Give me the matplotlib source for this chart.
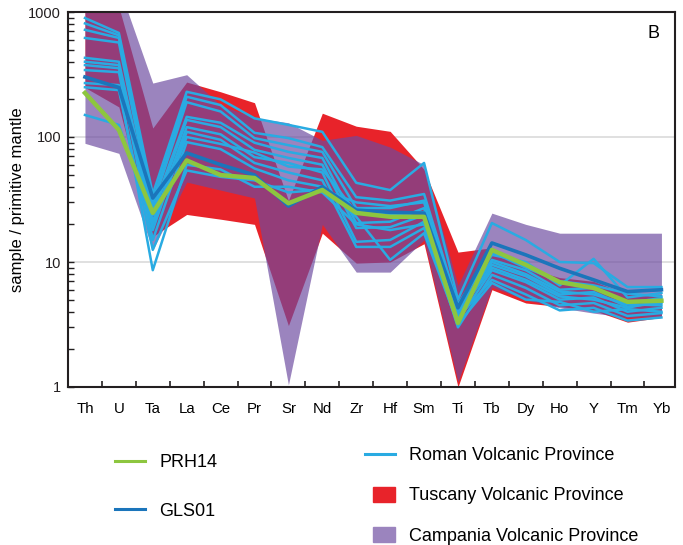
import numpy as np
import matplotlib
matplotlib.use("Agg")
import matplotlib.pyplot as plt
from matplotlib.lines import Line2D
from matplotlib.patches import Patch, Rectangle
from matplotlib.legend_handler import HandlerPatch
from matplotlib.ticker import LogLocator, NullFormatter

plt.rcParams['font.family'] = ['Liberation Sans', 'DejaVu Sans']

elements = ["Th", "U", "Ta", "La", "Ce", "Pr", "Sr", "Nd", "Zr", "Hf",
            "Sm", "Ti", "Tb", "Dy", "Ho", "Y", "Tm", "Yb"]

# field envelopes (upper / lower), sample / primitive mantle
tuscany_hi = [1500, 1100, 118, 275, 230, 188, 31, 155, 122, 111, 55, 12, 13, 9, 7.5, 7, 5.5, 5.5]
tuscany_lo = [249, 174, 16, 24, 22, 20, 3.1, 17, 9.8, 10, 14, 1.0, 6, 4.7, 4.4, 4.1, 3.3, 3.6]
campania_hi = [1500, 1600, 270, 315, 180, 142, 130, 94, 103, 83, 60, 6.5, 24.6, 20, 17, 17, 17, 17]
campania_lo = [89, 74, 12.5, 43.6, 37.6, 32.5, 1.04, 20, 8.3, 8.3, 15, 1.1, 6.3, 5, 4.3, 3.9, 3.6, 3.7]

# Roman Volcanic Province samples
roman = [
    [895, 680, 35, 230, 200, 141, 125, 110, 43, 37.6, 62, 5.0, 20.5, 15, 10, 9.8, 6.3, 6.3],
    [810, 650, 31, 210, 180, 108, 98, 83, 33, 31, 35, 4.5, 11.4, 10, 6.5, 10.6, 5.2, 5.65],
    [720, 620, 28.6, 190, 160, 98, 86, 76, 27, 27, 31, 4.1, 10.4, 8.6, 6.0, 6.2, 4.7, 5.15],
    [620, 570, 26, 145, 130, 90, 76, 68, 20.5, 21, 27, 3.8, 9.5, 7.7, 5.5, 5.75, 4.4, 4.7],
    [430, 400, 23.7, 137, 120, 79, 68, 60, 18.7, 19, 23.7, 3.4, 8.6, 6.9, 5.0, 5.2, 4.0, 4.3],
    [400, 376, 21, 120, 105, 69, 62, 52, 14.5, 15, 21, 3.0, 7.9, 6.2, 4.5, 4.7, 3.7, 3.9],
    [376, 355, 18, 110, 95, 62, 52, 45, 13.2, 13.2, 18.7, 3.6, 7.2, 5.5, 4.1, 4.3, 3.4, 3.6],
    [343, 330, 15, 91, 80, 56, 45, 40, 23, 10.4, 17, 3.2, 6.8, 5.0, 4.8, 4.0, 4.2, 4.0],
    [270, 260, 8.6, 60, 55, 40, 40, 36, 20, 18, 20, 4.3, 10, 8, 5.8, 5.5, 4.6, 4.5],
    [250, 237, 12.5, 54, 48, 45, 36, 38, 30, 28, 30, 3.9, 9, 7.2, 5.3, 5.0, 4.3, 4.9],
    [150, 125, 20, 100, 88, 75, 58, 55, 25, 24, 25, 4.6, 12, 9, 7, 6.5, 5.6, 5.3],
]
gls01 = [302, 249, 32.5, 74.6, 60, 49.7, 28, 40, 26, 25, 24.6, 4.3, 14.2, 11.4, 8.9, 7.2, 5.8, 6.0]
prh14 = [225, 114, 24.7, 65, 49.6, 47, 29.5, 37.7, 24.7, 23, 23, 3.25, 12.5, 9.5, 6.9, 6.2, 4.8, 4.9]

red = '#E8232A'
purple = '#6C4A9F'
light_blue = '#29ABE2'
dark_blue = '#1B75BB'
green = '#8DC63F'

fig = plt.figure(figsize=(6.83, 5.45), dpi=100)
ax = fig.add_axes([68 / 683, 1 - 387 / 545, 607 / 683, 375 / 545])
x = np.arange(len(elements))

ax.fill_between(x, tuscany_lo, tuscany_hi, color=red, lw=0, zorder=1)
ax.fill_between(x, campania_lo, campania_hi, color=purple, alpha=0.68, lw=0, zorder=2)
for r in roman:
    ax.plot(x, r, color=light_blue, lw=1.8, zorder=3)
ax.plot(x, gls01, color=dark_blue, lw=2.6, zorder=4)
ax.plot(x, prh14, color=green, lw=3.2, zorder=5)

ax.axhline(10, color='#DADADA', lw=1.2, zorder=0)
ax.axhline(100, color='#DADADA', lw=1.2, zorder=0)

ax.set_yscale('log')
ax.set_ylim(1, 1000)
ax.set_xlim(-0.5, 17.4)
ax.set_yticks([1, 10, 100, 1000])
ax.set_yticklabels(['1', '10', '100', '1000'])
ax.yaxis.set_minor_locator(LogLocator(base=10, subs=np.arange(2, 10)))
ax.yaxis.set_minor_formatter(NullFormatter())
ax.tick_params(axis='y', which='both', direction='in', length=4, width=1,
               labelsize=10.5, pad=5, colors='#231F20')

ax.set_xticks(np.arange(0.5, 17, 1))
ax.set_xticklabels([])
ax.set_xticks(x, minor=True)
ax.set_xticklabels(elements, minor=True)
ax.tick_params(axis='x', which='major', direction='in', length=4, width=1.2, color='#231F20')
ax.tick_params(axis='x', which='minor', length=0, pad=11, labelsize=10.8)

for s in ax.spines.values():
    s.set_linewidth(1.5)
    s.set_color('#231F20')

ax.set_ylabel('sample / primitive mantle', fontsize=12, labelpad=2)
ax.text(0.975, 0.965, 'B', transform=ax.transAxes, fontsize=13, ha='right', va='top')


def square(legend, orig_handle, xdescent, ydescent, width, height, fontsize):
    w = 0.73 * width
    h = 1.2 * height
    return Rectangle((width - w - xdescent, (height - h) / 2 - ydescent), w, h)


leg_font = 13
h1 = [Line2D([], [], color=green, lw=2.2), Line2D([], [], color=dark_blue, lw=2.2)]
leg1 = fig.legend(h1, ['PRH14', 'GLS01'], loc='center left',
                  bbox_to_anchor=(115 / 683, 1 - 487 / 545), frameon=False,
                  fontsize=leg_font, handlelength=1.65, handletextpad=0.8,
                  labelspacing=1.75, borderpad=0, borderaxespad=0)
h2 = [Line2D([], [], color=light_blue, lw=2.2), Patch(color=red), Patch(color='#9B84BE')]
leg2 = fig.legend(h2, ['Roman Volcanic Province', 'Tuscany Volcanic Province',
                       'Campania Volcanic Province'], loc='center left',
                  bbox_to_anchor=(365 / 683, 1 - 496 / 545), frameon=False,
                  fontsize=leg_font, handlelength=1.65, handletextpad=0.8,
                  labelspacing=1.3, borderpad=0, borderaxespad=0,
                  handler_map={Patch: HandlerPatch(patch_func=square)})

fig.savefig('out.png', dpi=100)
